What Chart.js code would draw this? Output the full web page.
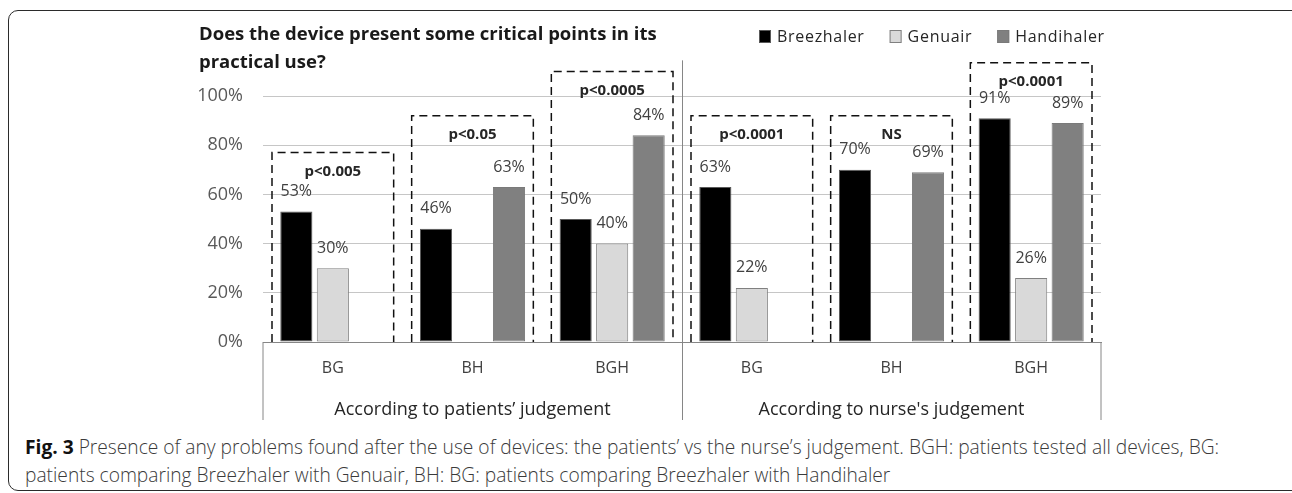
<!DOCTYPE html>
<html>
<head>
<meta charset="utf-8">
<script src="https://cdn.jsdelivr.net/npm/chart.js@4.4.1/dist/chart.umd.min.js"></script>
<style>
  html, body { margin: 0; padding: 0; background: #fff; }
  body { width: 1292px; height: 493px; position: relative; overflow: hidden; font-family: 'Open Sans', sans-serif; }
  #frame { position: absolute; left: 8px; top: 10px; width: 1300px; height: 479px; border: 1.5px solid #2b2b2b; border-radius: 10px; }
  #wrap { position: absolute; left: 0; top: 0; width: 1292px; height: 430px; }
  #caption { position: absolute; left: 25px; top: 433px; font-size: 19.2px; line-height: 28px; color: #3a3a3a; white-space: nowrap; font-weight: 300; }
  #caption b { color: #111; font-weight: 700; }
</style>
</head>
<body>
<div id="frame"></div>
<div id="wrap"><canvas id="chart" width="1292" height="430"></canvas></div>
<div id="caption"><b>Fig. 3</b> Presence of any problems found after the use of devices: the patients’ vs the nurse’s judgement. BGH: patients tested all devices, BG:<br>patients comparing Breezhaler with Genuair, BH: BG: patients comparing Breezhaler with Handihaler</div>
<script>
  // ---------- Data ----------
  const categories = ['BG', 'BH', 'BGH', 'BG', 'BH', 'BGH'];
  const groupLabels = ['According to patients’ judgement', "According to nurse's judgement"];
  const breezhaler = [53, 46, 50, 63, 70, 91];
  const genuair    = [30, null, 40, 22, null, 26];
  const handihaler = [null, 63, 84, null, 69, 89];
  const pLabels  = ['p<0.005', 'p<0.05', 'p<0.0005', 'p<0.0001', 'NS', 'p<0.0001'];
  const boxTops  = [77, 92, 110, 92, 92, 113.5]; // top of the dashed frames, in % units
  const titleLines = ['Does the device present some critical points in its', 'practical use?'];

  const FONT = "'Open Sans', sans-serif";

  // ---------- Decorations drawn on top (Excel look) ----------
  const excelDecor = {
    id: 'excelDecor',
    afterDraw(chart) {
      const ctx = chart.ctx;
      const xs = chart.scales.x, ys = chart.scales.y;
      const area = chart.chartArea;
      const catW = xs.getPixelForValue(1) - xs.getPixelForValue(0);
      ctx.save();

      // value labels above the bars
      ctx.font = '16px ' + FONT;
      ctx.fillStyle = '#404040';
      ctx.textAlign = 'center';
      ctx.textBaseline = 'middle';
      chart.data.datasets.forEach((ds, di) => {
        const meta = chart.getDatasetMeta(di);
        meta.data.forEach((bar, i) => {
          const v = ds.data[i];
          if (v == null) return;
          ctx.fillText(v + '%', bar.x, bar.y - 20);
        });
      });

      // dashed frames + p-values
      const y0 = ys.getPixelForValue(0);
      categories.forEach((c, i) => {
        const cx = xs.getPixelForValue(i);
        const l = cx - catW / 2 + 9, r = cx + catW / 2 - 9;
        const t = ys.getPixelForValue(boxTops[i]);
        ctx.setLineDash([8, 5]);
        ctx.lineWidth = 1.5;
        ctx.strokeStyle = '#111';
        ctx.beginPath();
        ctx.moveTo(l, y0); ctx.lineTo(l, t); ctx.lineTo(r, t); ctx.lineTo(r, y0);
        ctx.stroke();
        ctx.setLineDash([]);
        ctx.font = 'bold 15px ' + FONT;
        ctx.fillStyle = '#262626';
        ctx.fillText(pLabels[i], cx, t + 19);
      });

      // multi-level axis: group separators and group labels
      ctx.strokeStyle = '#868686';
      ctx.lineWidth = 1;
      const mid = (xs.getPixelForValue(2) + xs.getPixelForValue(3)) / 2;
      const axBottom = 420;
      [[area.left, y0], [Math.round(mid) + 0.5, ys.getPixelForValue(114.5)], [area.right, y0]].forEach(([x, top]) => {
        ctx.beginPath(); ctx.moveTo(x, top); ctx.lineTo(x, axBottom); ctx.stroke();
      });
      ctx.font = '18px ' + FONT;
      ctx.fillStyle = '#262626';
      ctx.fillText(groupLabels[0], (area.left + mid) / 2, 410);
      ctx.fillText(groupLabels[1], (mid + area.right) / 2, 410);

      // title
      ctx.textAlign = 'left';
      ctx.font = 'bold 18.5px ' + FONT;
      ctx.fillStyle = '#1a1a1a';
      ctx.fillText(titleLines[0], 199, 35);
      ctx.fillText(titleLines[1], 199, 63);

      // legend
      ctx.font = '16px ' + FONT;
      ctx.letterSpacing = '0.7px';
      let lx = 759;
      chart.data.datasets.forEach(ds => {
        ctx.fillStyle = ds.backgroundColor;
        ctx.fillRect(lx, 30, 12, 13);
        ctx.strokeStyle = ds.borderColor;
        ctx.lineWidth = 1;
        ctx.strokeRect(lx + 0.5, 30.5, 11, 12);
        ctx.fillStyle = '#262626';
        ctx.fillText(ds.label, lx + 18, 37);
        lx += 18 + ctx.measureText(ds.label).width + 25;
      });

      ctx.restore();
    }
  };

  Chart.defaults.font.family = FONT;

  new Chart(document.getElementById('chart'), {
    type: 'bar',
    data: {
      labels: categories,
      datasets: [
        { label: 'Breezhaler', data: breezhaler, backgroundColor: '#000000', borderColor: '#595959' },
        { label: 'Genuair',    data: genuair,    backgroundColor: '#d9d9d9', borderColor: '#808080' },
        { label: 'Handihaler', data: handihaler, backgroundColor: '#808080', borderColor: '#7a7a7a' },
      ]
    },
    options: {
      responsive: false,
      animation: false,
      layout: { padding: { left: 0, right: 191, top: 96, bottom: 0 } },
      datasets: {
        bar: { borderWidth: 1, borderSkipped: false, categoryPercentage: 0.784, barPercentage: 0.88 }
      },
      plugins: { legend: { display: false }, tooltip: { enabled: false } },
      scales: {
        x: {
          grid: { display: false, drawTicks: false },
          border: { display: true, color: '#868686', width: 1 },
          ticks: { color: '#404040', font: { size: 16 }, padding: 17 },
          afterFit(s) { s.height = 88; }
        },
        y: {
          min: 0, max: 100,
          grid: { color: '#c6c6c6', lineWidth: 1, drawTicks: false },
          border: { display: false },
          ticks: { stepSize: 20, color: '#595959', font: { size: 18 }, padding: 20, callback: v => v + '%' },
          afterFit(s) { s.width = 263; }
        }
      }
    },
    plugins: [excelDecor]
  });
</script>
</body>
</html>
